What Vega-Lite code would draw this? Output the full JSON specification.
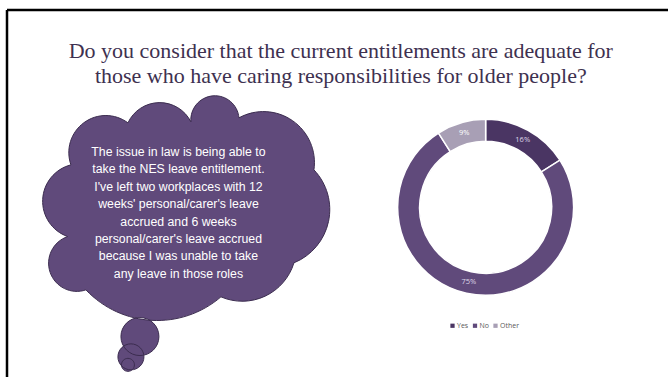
{
  "$schema": "https://vega.github.io/schema/vega-lite/v6.json",
  "width": 670,
  "height": 379,
  "autosize": {"type": "fit", "contains": "padding"},
  "padding": {"left": 5, "top": 8, "right": 0, "bottom": 0},
  "background": "white",
  "config": {"view": {"stroke": null}},
  "datasets": {
    "answers": [
      {"answer": "Yes", "share": 0.16},
      {"answer": "No", "share": 0.75},
      {"answer": "Other", "share": 0.09}
    ],
    "heading": [
      {"text": "Do you consider that the current entitlements are adequate for\nthose who have caring responsibilities for older people?"}
    ],
    "quote": [
      {"text": "The issue in law is being able to\ntake the NES leave entitlement.\nI've left two workplaces with 12\nweeks' personal/carer's leave\naccrued and 6 weeks\npersonal/carer's leave accrued\nbecause I was unable to take\nany leave in those roles"}
    ]
  },
  "layer": [
    {
      "data": {"values": [{}]},
      "mark": {"type": "rule", "stroke": "black", "strokeWidth": 2.5},
      "encoding": {
        "x": {"datum": 0, "type": "quantitative", "scale": {"domain": [0, 100], "nice": false, "zero": false}, "axis": null}
      }
    },
    {
      "data": {"values": [{}]},
      "mark": {"type": "rule", "stroke": "black", "strokeWidth": 2.5},
      "encoding": {
        "y": {"datum": 0, "type": "quantitative", "scale": {"domain": [0, 100], "reverse": true, "nice": false, "zero": false}, "axis": null}
      }
    },
    {
      "data": {"name": "heading"},
      "mark": {"type": "text", "font": "Liberation Serif", "fontSize": 22, "fill": "#3e3150", "lineBreak": "\n", "lineHeight": 24.5, "align": "center", "baseline": "middle"},
      "encoding": {
        "x": {"datum": 50.5, "type": "quantitative", "scale": {"domain": [0, 100], "nice": false, "zero": false}, "axis": null},
        "y": {"datum": 11.2, "type": "quantitative", "scale": {"domain": [0, 100], "reverse": true, "nice": false, "zero": false}, "axis": null},
        "text": {"field": "text"}
      }
    },
    {
      "data": {"name": "quote"},
      "mark": {
        "type": "point",
        "shape": "M -1.15 -0.42 A 0.37 0.37 0 0 1 -0.58 -0.84 A 0.35 0.35 0 0 1 0.05 -0.85 A 0.24 0.24 0 0 1 0.53 -0.89 A 0.51 0.51 0 0 1 1.28 -0.37 A 0.576 0.576 0 0 1 1.08 0.56 A 0.54 0.54 0 0 1 0.35 0.9 A 0.98 0.98 0 0 1 -1 0.83 A 0.28 0.28 0 0 1 -1.183 0.297 A 0.375 0.375 0 0 1 -1.15 -0.42 Z M -0.65 1.297 A 0.19 0.19 0 1 0 -0.27 1.297 A 0.19 0.19 0 1 0 -0.65 1.297 Z M -0.68 1.5 A 0.13 0.13 0 1 0 -0.42 1.5 A 0.13 0.13 0 1 0 -0.68 1.5 Z M -0.645 1.58 A 0.065 0.065 0 1 0 -0.515 1.58 A 0.065 0.065 0 1 0 -0.645 1.58 Z",
        "size": 40000,
        "filled": true,
        "fill": "#604a7b",
        "stroke": "#3b2c4f",
        "strokeWidth": 1,
        "opacity": 1
      },
      "encoding": {
        "x": {"datum": 27.07, "type": "quantitative", "scale": {"domain": [0, 100], "nice": false, "zero": false}, "axis": null},
        "y": {"datum": 53.64, "type": "quantitative", "scale": {"domain": [0, 100], "reverse": true, "nice": false, "zero": false}, "axis": null}
      }
    },
    {
      "data": {"name": "quote"},
      "mark": {"type": "text", "font": "Liberation Sans", "fontSize": 12.3, "fill": "white", "lineBreak": "\n", "lineHeight": 17.4, "align": "center", "baseline": "middle"},
      "encoding": {
        "x": {"datum": 25.94, "type": "quantitative", "scale": {"domain": [0, 100], "nice": false, "zero": false}, "axis": null},
        "y": {"datum": 38.7, "type": "quantitative", "scale": {"domain": [0, 100], "reverse": true, "nice": false, "zero": false}, "axis": null},
        "text": {"field": "text"}
      }
    },
    {
      "data": {"name": "answers"},
      "mark": {"type": "arc", "innerRadius": 66, "outerRadius": 88, "stroke": "white", "strokeWidth": 1.5},
      "encoding": {
        "x": {"datum": 72.41, "type": "quantitative", "scale": {"domain": [0, 100], "nice": false, "zero": false}, "axis": null},
        "y": {"datum": 53.77, "type": "quantitative", "scale": {"domain": [0, 100], "reverse": true, "nice": false, "zero": false}, "axis": null},
        "theta": {"field": "share", "type": "quantitative", "stack": true, "scale": {"range": [1.00531, 7.28850]}},
        "color": {
          "field": "answer",
          "type": "nominal",
          "scale": {"domain": ["Yes", "No", "Other"], "range": ["#4a3563", "#604a7b", "#a89fb5"]},
          "legend": {
            "title": null,
            "orient": "none",
            "direction": "horizontal",
            "legendX": 442,
            "legendY": 312,
            "padding": 0,
            "symbolType": "square",
            "symbolSize": 18,
            "symbolStrokeWidth": 0,
            "labelFont": "Open Sans",
            "labelFontSize": 7,
            "labelColor": "#595959",
            "labelOffset": 1,
            "columnPadding": 2.5
          }
        }
      }
    },
    {
      "data": {"name": "answers"},
      "mark": {"type": "text", "radius": 77, "font": "Open Sans", "fontSize": 7.5, "align": "center", "baseline": "middle"},
      "encoding": {
        "x": {"datum": 72.41, "type": "quantitative", "scale": {"domain": [0, 100], "nice": false, "zero": false}, "axis": null},
        "y": {"datum": 53.77, "type": "quantitative", "scale": {"domain": [0, 100], "reverse": true, "nice": false, "zero": false}, "axis": null},
        "theta": {"field": "share", "type": "quantitative", "stack": true, "scale": {"range": [1.00531, 7.28850]}},
        "color": {
          "field": "answer",
          "type": "nominal",
          "scale": {"domain": ["Yes", "No", "Other"], "range": ["#ded6e8", "#ded6e8", "#ffffff"]},
          "legend": null
        },
        "text": {"field": "share", "type": "quantitative", "format": ".0%"}
      }
    }
  ],
  "resolve": {"scale": {"color": "independent"}}
}
